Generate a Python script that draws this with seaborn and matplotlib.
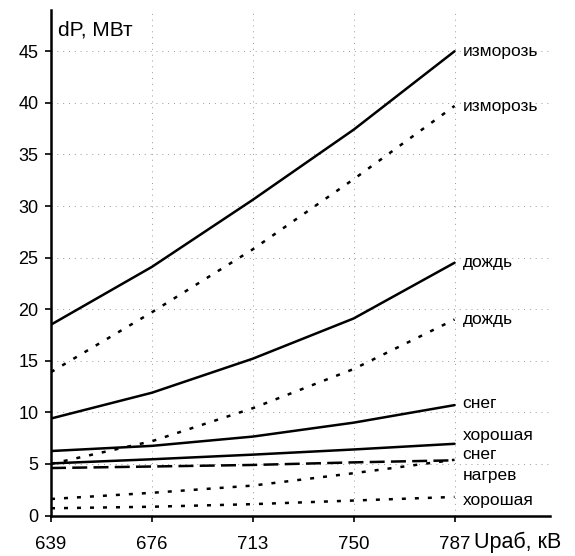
import numpy as np
import pandas as pd
import matplotlib
matplotlib.use("Agg")
import matplotlib.pyplot as plt
import seaborn as sns

# U раб, кВ
u = [639, 676, 713, 750, 787]

# dP, МВт (solid - corona losses, dotted - second set)
izm_solid = [18.5, 24.1, 30.6, 37.4, 45.0]
izm_dot = [13.9, 19.7, 25.8, 32.6, 39.7]
rain_solid = [9.4, 11.9, 15.2, 19.1, 24.5]
rain_dot = [5.0, 7.2, 10.4, 14.2, 19.0]
snow_solid = [6.25, 6.75, 7.65, 9.0, 10.7]
good_solid = [5.05, 5.45, 5.9, 6.4, 6.95]
heat = [4.6, 4.75, 4.9, 5.15, 5.35]
snow_dot = [1.6, 2.2, 2.9, 4.1, 5.4]
good_dot = [0.7, 0.85, 1.1, 1.45, 1.8]

series = [izm_solid, izm_dot, rain_solid, rain_dot, snow_solid,
          good_solid, heat, snow_dot, good_dot]
names = ['изморозь', 'изморозь', 'дождь', 'дождь', 'снег',
         'хорошая', 'нагрев', 'снег', 'хорошая']
kinds = ['solid', 'dot', 'solid', 'dot', 'solid', 'solid', 'dash', 'dot', 'dot']
# where the right-hand labels sit (some are shifted to avoid overlap)
label_y = [45.0, 39.6, 24.5, 19.0, 10.9, 7.8, 3.9, 5.9, 1.5]

sns.set_style("white")
plt.rcParams['font.family'] = ['Liberation Sans', 'DejaVu Sans']
plt.rcParams['text.color'] = 'black'
plt.rcParams['xtick.color'] = 'black'
plt.rcParams['ytick.color'] = 'black'

fig = plt.figure(figsize=(5.75, 5.56), dpi=100)
ax = fig.add_axes([51 / 575, 40.5 / 556, 499 / 575, 505.5 / 556])

styles = {'solid': '-', 'dot': (0, (1.6, 3.6)), 'dash': (0, (6, 2.5))}

for vals, kind in zip(series, kinds):
    df = pd.DataFrame({'u': u, 'dp': vals})
    sns.lineplot(data=df, x='u', y='dp', ax=ax, color='black',
                 linewidth=1.8, linestyle=styles[kind])

for name, yv in zip(names, label_y):
    ax.text(790, yv, name, fontsize=12.5, va='center', ha='left')

ax.set_xlim(639, 822)
ax.set_ylim(0, 49)
ax.set_xticks(u)
ax.set_yticks(np.arange(0, 46, 5))
ax.set_xlabel('')
ax.set_ylabel('')
ax.grid(True, color='#999999', linestyle=(0, (1, 5)), linewidth=0.7)

for side in ['top', 'right']:
    ax.spines[side].set_visible(False)
for side in ['left', 'bottom']:
    ax.spines[side].set_color('black')
    ax.spines[side].set_linewidth(1.8)

ax.tick_params(axis='y', direction='out', length=4, width=1.2,
               labelsize=13, pad=5, left=True)
ax.tick_params(axis='x', direction='out', length=4, width=1.2,
               labelsize=13.5, pad=11, bottom=True)

ax.text(0.015, 47.1, 'dP, МВт', transform=ax.get_yaxis_transform(),
        fontsize=15, va='center', ha='left')
ax.annotate('Uраб, кВ', xy=(474 / 575, 556 - 542),
            xycoords=('figure fraction', 'figure pixels'),
            fontsize=15.5, va='center', ha='left')

fig.savefig('out.png', dpi=100)
